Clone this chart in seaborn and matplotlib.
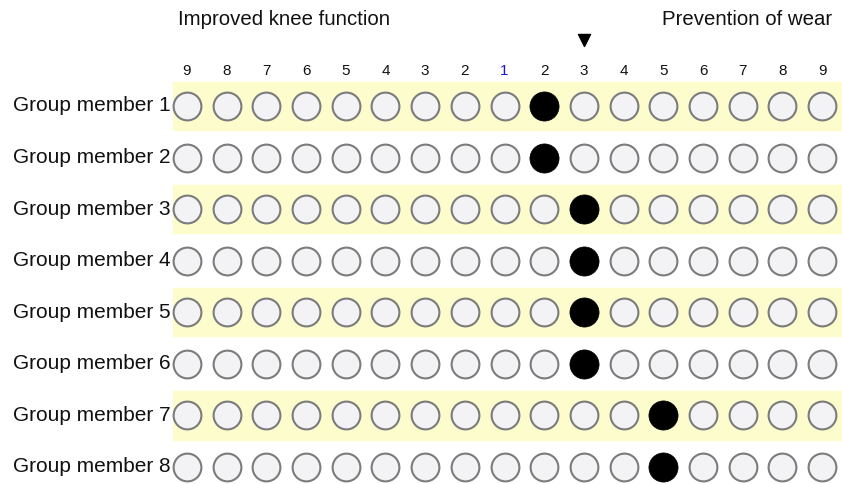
import pandas as pd
import numpy as np
import seaborn as sns
import matplotlib.pyplot as plt

#scale labels, left side is knee function, right side is prevention of wear
scale_labels = ["9", "8", "7", "6", "5", "4", "3", "2", "1", "2", "3", "4", "5", "6", "7", "8", "9"]
members = ["Group member 1", "Group member 2", "Group member 3", "Group member 4",
           "Group member 5", "Group member 6", "Group member 7", "Group member 8"]
#chosen position on the scale (index into scale_labels) for each member
chosen = [9, 9, 10, 10, 10, 10, 12, 12]
group_choice = 10  #triangle marker position

#build long table of every cell
rows = []
for r, m in enumerate(members):
    for c in range(len(scale_labels)):
        rows.append({"col": c, "row": r, "member": m, "picked": c == chosen[r]})
df = pd.DataFrame(rows)

sns.set_theme(style="white")
plt.rcParams["font.family"] = ["Liberation Sans", "DejaVu Sans"]

fig = plt.figure(figsize=(8.42, 4.84), dpi=100)
ax = fig.add_axes([0, 0, 1, 1])
ax.set_xlim(-4.71, 16.50)
ax.set_ylim(7.33, -2.054)
ax.axis("off")

#yellow bands on odd members
for r in range(0, len(members), 2):
    ax.axhspan(r - 0.47, r + 0.47, xmin=173 / 842, xmax=1, color="#fcfccd", zorder=0)

#empty circles
sns.scatterplot(data=df[~df["picked"]], x="col", y="row", s=400, color="#f3f3f5",
                edgecolor="#7c7c7c", linewidth=1.5, ax=ax, legend=False, zorder=2)
#chosen circles
sns.scatterplot(data=df[df["picked"]], x="col", y="row", s=440, color="black",
                edgecolor="black", linewidth=0.5, ax=ax, legend=False, zorder=4)

#member labels
for r, m in enumerate(members):
    ax.text(-0.42, r, m, ha="right", va="center", fontsize=15, color="#111111")

#scale numbers
for c, lab in enumerate(scale_labels):
    ax.text(c, -0.68, lab, ha="center", va="center", fontsize=11,
            color="#1a1acc" if lab == "1" else "#111111")

#triangle for group choice
ax.scatter([group_choice], [-1.28], marker="v", s=75, color="black", zorder=5)

#headings
ax.text(-0.23, -1.67, "Improved knee function", ha="left", va="center", fontsize=14.7, color="#111111")
ax.text(16.25, -1.67, "Prevention of wear", ha="right", va="center", fontsize=14.7, color="#111111")

plt.savefig("out.png", dpi=100)
plt.close()
